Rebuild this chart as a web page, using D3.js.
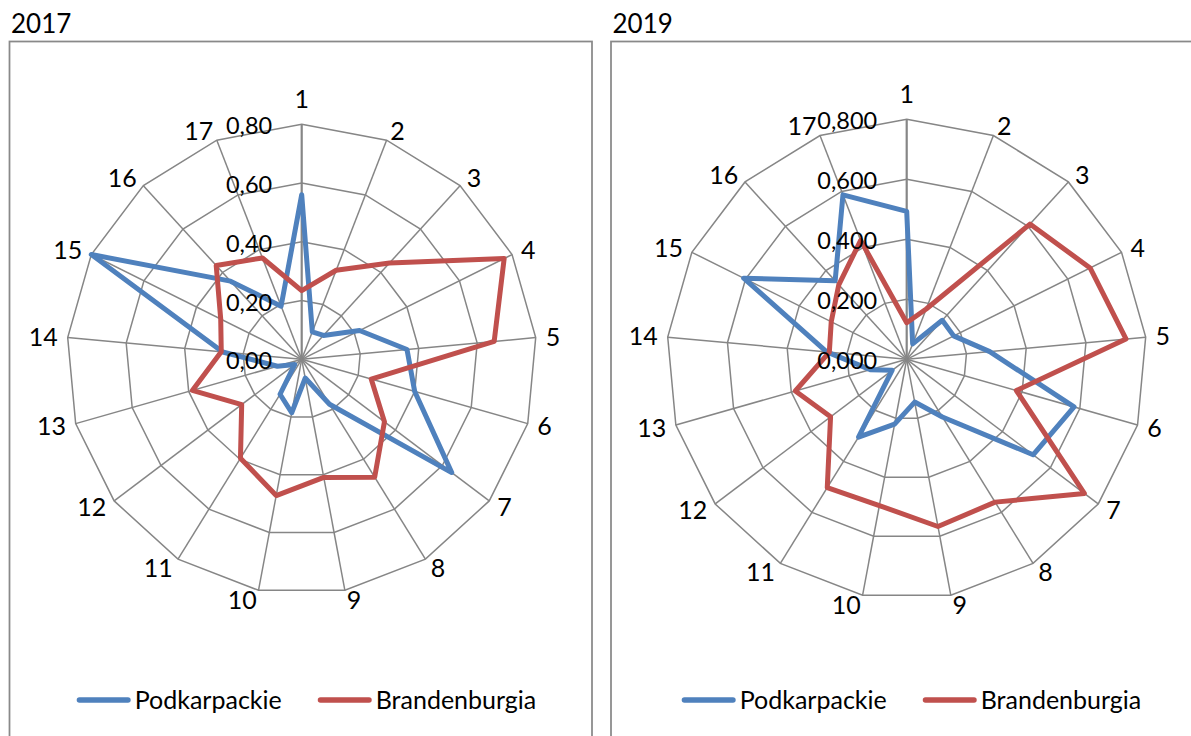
<!DOCTYPE html>
<html>
<head>
<meta charset="utf-8">
<script src="https://cdn.jsdelivr.net/npm/d3@7/dist/d3.min.js"></script>
<style>
  html, body { margin: 0; padding: 0; background: #ffffff; }
  svg { display: block; }
  text { font-family: Lato, "Open Sans", sans-serif; fill: #000; }
</style>
</head>
<body>
<svg id="chart" width="1191" height="736"></svg>
<script>
// ---- data ----
const categories = ["1","2","3","4","5","6","7","8","9","10","11","12","13","14","15","16","17"];
const seriesNames = ["Podkarpackie", "Brandenburgia"];
const seriesColors = ["#4F81BD", "#C0504D"];

const podkarpackie2017 = [0.56, 0.10, 0.11, 0.22, 0.36, 0.40, 0.64, 0.18, 0.065, 0.185, 0.14, 0.03, 0.086, 0.27, 0.80, 0.36, 0.194];
const brandenburgia2017 = [0.234, 0.325, 0.444, 0.77, 0.658, 0.246, 0.353, 0.472, 0.409, 0.472, 0.396, 0.256, 0.387, 0.275, 0.308, 0.432, 0.37];
const podkarpackie2019 = [0.493, 0.055, 0.176, 0.175, 0.278, 0.58, 0.528, 0.226, 0.145, 0.22, 0.305, 0.061, 0.126, 0.268, 0.607, 0.354, 0.588];
const brandenburgia2019 = [0.122, 0.18, 0.61, 0.683, 0.734, 0.38, 0.742, 0.56, 0.567, 0.496, 0.503, 0.318, 0.386, 0.259, 0.281, 0.336, 0.425];

const tickValues = [0, 0.2, 0.4, 0.6, 0.8];
const tickLabels2017 = ["0,00", "0,20", "0,40", "0,60", "0,80"];
const tickLabels2019 = ["0,000", "0,200", "0,400", "0,600", "0,800"];

const charts = [
  { title: "2017", series: [podkarpackie2017, brandenburgia2017], ticks: tickLabels2017,
    frame: { x: 9.5, y: 41.5, w: 582.5, h: 720 }, cx: 301.7, cy: 359.3, r: 235 },
  { title: "2019", series: [podkarpackie2019, brandenburgia2019], ticks: tickLabels2019,
    frame: { x: 611, y: 41.5, w: 600, h: 720 }, cx: 906.7, cy: 359.3, r: 240 }
];

const svg = d3.select("#chart");
const gridColor = "#868686";
const n = categories.length;
const angle = d3.scaleLinear().domain([0, n]).range([0, 2 * Math.PI]);
const fs = 25;
const tickFs = 23.5;

charts.forEach(ch => {
  // frame
  svg.append("rect")
    .attr("x", ch.frame.x).attr("y", ch.frame.y)
    .attr("width", ch.frame.w).attr("height", ch.frame.h)
    .attr("fill", "none").attr("stroke", "#898989").attr("stroke-width", 1.75);

  // title
  svg.append("text")
    .attr("x", ch.frame.x + 1.5).attr("y", 33.3)
    .attr("font-size", 26)
    .text(ch.title);

  const rScale = d3.scaleLinear().domain([0, 0.8]).range([0, ch.r]);
  const g = svg.append("g").attr("transform", `translate(${ch.cx},${ch.cy})`);

  const pt = (i, v) => {
    const a = angle(i);
    return [Math.sin(a) * rScale(v), -Math.cos(a) * rScale(v)];
  };

  // rings
  tickValues.filter(t => t > 0).forEach(t => {
    g.append("polygon")
      .attr("points", categories.map((c, i) => pt(i, t).join(",")).join(" "))
      .attr("fill", "none").attr("stroke", gridColor).attr("stroke-width", 1.5);
  });

  // spokes
  categories.forEach((c, i) => {
    const [x, y] = pt(i, 0.8);
    g.append("line")
      .attr("x1", 0).attr("y1", 0).attr("x2", x).attr("y2", y)
      .attr("stroke", gridColor).attr("stroke-width", i === 0 ? 2.2 : 1.5);
  });

  // category labels
  categories.forEach((c, i) => {
    const a = angle(i);
    const s = Math.sin(a), co = Math.cos(a);
    const [x, y] = pt(i, 0.8);
    let anchor = "middle", lx = x, ly;
    if (Math.abs(s) < 0.01) {
      ly = y + (co > 0 ? -25.5 : 25.5);
    } else {
      anchor = s > 0 ? "start" : "end";
      lx = x + s * 10;
      ly = y - co * 10;
    }
    g.append("text")
      .attr("x", lx).attr("y", ly).attr("dy", "0.36em")
      .attr("text-anchor", anchor)
      .attr("font-size", fs)
      .text(c);
  });

  // series lines
  const line = d3.line().curve(d3.curveLinearClosed);
  ch.series.forEach((vals, si) => {
    g.append("path")
      .attr("d", line(vals.map((v, i) => pt(i, v))))
      .attr("fill", "none")
      .attr("stroke", seriesColors[si])
      .attr("stroke-width", 5)
      .attr("stroke-linejoin", "round");
  });

  // tick labels
  tickValues.forEach((t, k) => {
    g.append("text")
      .attr("x", -29.5).attr("y", -rScale(t) + 1.5).attr("dy", "0.36em")
      .attr("text-anchor", "end")
      .attr("font-size", tickFs)
      .text(ch.ticks[k]);
  });

  // legend
  const lg = svg.append("g").attr("transform", `translate(${ch.cx - 225},700)`);
  let xPos = 0;
  seriesNames.forEach((name, si) => {
    lg.append("line")
      .attr("x1", xPos + 2.75).attr("x2", xPos + 54 - 2.75)
      .attr("y1", 0).attr("y2", 0)
      .attr("stroke", seriesColors[si]).attr("stroke-width", 5.5)
      .attr("stroke-linecap", "round");
    const t = lg.append("text")
      .attr("x", xPos + 58).attr("y", 0).attr("dy", "0.36em")
      .attr("font-size", fs)
      .text(name);
    const w = t.node().getComputedTextLength();
    xPos += 58 + w + 36;
  });
});
</script>
</body>
</html>
